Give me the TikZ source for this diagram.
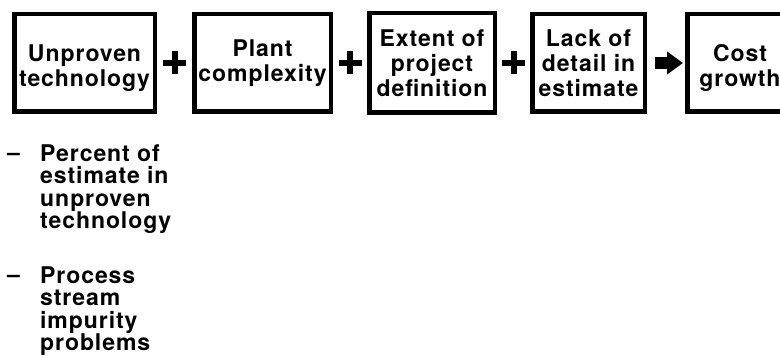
\documentclass[tikz,border=0pt]{standalone}
\usepackage{fontspec}
\setmainfont{TeX Gyre Heros}[LetterSpace=4]
\usetikzlibrary{arrows.meta}

\begin{document}
\begin{tikzpicture}[x=1pt,y=-1pt,
    factor/.style={draw,line width=4.5pt,inner sep=0pt,align=center,
      minimum height=97.5pt,font=\fontsize{23}{25}\selectfont\bfseries},
    item/.style={inner sep=0pt,anchor=north west,align=left,
      font=\fontsize{23}{22.3}\selectfont\bfseries},
    plussign/.style={line width=6pt},
    leadsto/.style={line width=12pt,-{Triangle[length=16pt,width=22pt]},
      shorten <=8pt,shorten >=2pt}]
    \useasboundingbox (0,0) rectangle (780,358);
    \clip (0,0) rectangle (780,358);
    % the four factors and the result
    \node[factor,minimum width=140.5pt,text height=53pt] (tech) at (84.5,63) {Unproven\\technology};
    \node[factor,minimum width=136.5pt] (plant) at (262.5,63) {Plant\\complexity};
    \node[factor,minimum width=125.5pt,minimum height=99.5pt] (defn) at (432,63) {Extent of\\project\\definition};
    \node[factor,minimum width=112.5pt] (detail) at (588.5,63) {Lack of\\detail in\\estimate};
    \node[factor,minimum width=105.5pt,text height=53pt] (growth) at (740,63) {Cost\\growth};
    % plus signs between the factors
    \foreach \a/\b in {tech/plant,plant/defn,defn/detail} {
      \path (\a.east) -- (\b.west) coordinate[midway] (plus-\a);
      \draw[plussign] (plus-\a) ++(-11.5,0) -- ++(23,0)
                      (plus-\a) ++(0,-11.5) -- ++(0,23);
    }
    \draw[leadsto] (detail.east) -- (growth.west);
    % measures of unproven technology
    \node[item,anchor=base west] (dash1) at (7,161) {--};
    \node[item] (measure1) at (40,144.5) {Percent of\\estimate in\\unproven\\technology};
    \node[item,anchor=base west] (dash2) at (7,283) {--};
    \node[item] (measure2) at (40,266.5) {Process\\stream\\impurity\\problems};
\end{tikzpicture}
\end{document}
